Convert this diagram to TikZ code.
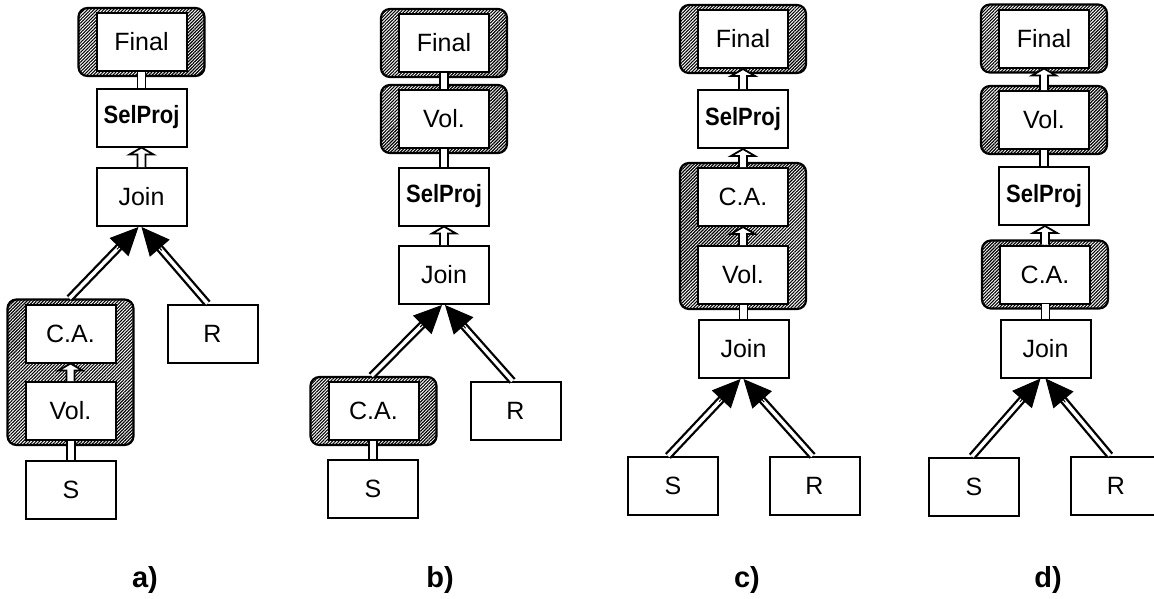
\documentclass[tikz,border=0pt]{standalone}
\usepackage{fontspec}
\setmainfont{Liberation Sans}
\usetikzlibrary{arrows.meta,patterns.meta,fit,backgrounds,calc}
\newcommand\myselproj[1]{\scalebox{0.88}[1]{\bfseries #1}}
\newcommand\mybigarrow[2]{\draw[bigshaft] (#1) -- (#2); \draw[bighead] ($(#2)!31pt!(#1)$) -- (#2);}
\begin{document}
\begin{tikzpicture}[x=1pt,y=-1pt,
  box/.style={draw, line width=2pt, fill=white, minimum width=90pt, minimum height=58pt,
    inner sep=0pt, font=\fontsize{25}{30}\selectfont},
  grp/.style={draw, line width=2.2pt, rounded corners=9pt, inner xsep=17pt, inner ysep=4pt,
    pattern={Lines[angle=45,distance=2.3pt,line width=1.15pt]}},
  lab/.style={font=\bfseries\fontsize{29}{32}\selectfont},
  harrow/.style={fill=white, line width=1.8pt, line join=miter,
    to path={let \p1=(\tikztostart), \p2=(\tikztotarget) in
      (\x1-4pt,\y1) -- (\x1-4pt,\y2-7pt) -- (\x1-12pt,\y2-7pt) -- (\x1,\y2)
      -- (\x1+12pt,\y2-7pt) -- (\x1+4pt,\y2-7pt) -- (\x1+4pt,\y1)}},
  hbar/.style={fill=white, line width=1.8pt,
    to path={let \p1=(\tikztostart), \p2=(\tikztotarget) in
      (\x1-4pt,\y1) -- (\x1-4pt,\y2+1pt) -- (\x1+4pt,\y2+1pt) -- (\x1+4pt,\y1)}},
  bigshaft/.style={double=white, double distance=3.5pt, line width=2.3pt, shorten >=23pt},
  bighead/.style={line width=1pt, -{Triangle[length=28pt,width=26pt]}}
]
\useasboundingbox (0,0) rectangle (1154,598);
\clip (0,0) rectangle (1154,598);

% ---------- panel a
\node[box] (aFinal) at (141.5,42) {Final};
\node[box] (aSel) at (141.5,117.5) {\myselproj{SelProj}};
\node[box] (aJoin) at (141.5,197) {Join};
\node[box] (aCA) at (70.5,333.5) {C.A.};
\node[box] (aVol) at (70.5,411) {Vol.};
\node[box] (aS) at (71,489.5) {S};
\node[box] (aR) at (212.5,333.5) {R};
\node[lab] (la) at (145,580) {a)};

% ---------- panel b
\node[box] (bFinal) at (444,43) {Final};
\node[box] (bVol) at (444,119) {Vol.};
\node[box] (bSel) at (444,196.5) {\myselproj{SelProj}};
\node[box] (bJoin) at (444,275) {Join};
\node[box] (bCA) at (373.5,411) {C.A.};
\node[box] (bS) at (373,488.5) {S};
\node[box] (bR) at (515.5,411) {R};
\node[lab] (lb) at (440,580) {b)};

% ---------- panel c
\node[box] (cFinal) at (743,39) {Final};
\node[box] (cSel) at (743,119) {\myselproj{SelProj}};
\node[box] (cCA) at (743,197) {C.A.};
\node[box] (cVol) at (743,275) {Vol.};
\node[box] (cJoin) at (743.5,349) {Join};
\node[box] (cS) at (673,486) {S};
\node[box] (cR) at (814.5,486) {R};
\node[lab] (lc) at (747,580) {c)};

% ---------- panel d
\node[box] (dFinal) at (1044,38.5) {Final};
\node[box] (dVol) at (1044,120) {Vol.};
\node[box] (dSel) at (1044,196) {\myselproj{SelProj}};
\node[box] (dCA) at (1045,274.5) {C.A.};
\node[box] (dJoin) at (1045.5,348.5) {Join};
\node[box] (dS) at (974,486.5) {S};
\node[box] (dR) at (1116,485.5) {R};
\node[lab] (ld) at (1048,580) {d)};

% ---------- shaded groups
\begin{pgfonlayer}{background}
\node[grp, fit=(aFinal)] (aGF) {};
\node[grp, fit=(aCA)(aVol)] (aG) {};
\node[grp, fit=(bFinal)] (bGF) {};
\node[grp, fit=(bVol)] (bGV) {};
\node[grp, fit=(bCA)] (bGC) {};
\node[grp, fit=(cFinal)] (cGF) {};
\node[grp, fit=(cCA)(cVol)] (cG) {};
\node[grp, fit=(dFinal)] (dGF) {};
\node[grp, fit=(dVol)] (dGV) {};
\node[grp, fit=(dCA)] (dGC) {};
\end{pgfonlayer}

% ---------- small connectors
\draw[hbar] (aSel.north) to (aFinal.south);
\draw[harrow] (aJoin.north) to (aSel.south);
\draw[harrow] (aVol.north) to (aCA.south);
\draw[hbar] (aS.north) to (aVol.south);

\draw[hbar] (bVol.north) to (bFinal.south);
\draw[hbar] (bSel.north) to (bVol.south);
\draw[harrow] (bJoin.north) to (bSel.south);
\draw[hbar] (bS.north) to (bCA.south);

\draw[harrow] (cSel.north) to (cFinal.south);
\draw[harrow] (cCA.north) to (cSel.south);
\draw[harrow] (cVol.north) to (cCA.south);
\draw[hbar] (cJoin.north) to (cVol.south);

\draw[harrow] (dVol.north) to (dFinal.south);
\draw[hbar] (dSel.north) to (dVol.south);
\draw[harrow] (dCA.north) to (dSel.south);
\draw[hbar] (dJoin.north) to (dCA.south);

% ---------- big arrows
\coordinate (aL) at ([xshift=-1pt]aG.north);
\coordinate (aRt) at ([xshift=-5pt]aR.north);
\coordinate (aT1) at ([xshift=-3pt]aJoin.south);
\coordinate (aT2) at ([xshift=0pt]aJoin.south);
\mybigarrow{aL}{aT1}
\mybigarrow{aRt}{aT2}

\coordinate (bL) at ([xshift=-2pt]bGC.north);
\coordinate (bRt) at ([xshift=-3pt]bR.north);
\coordinate (bT1) at ([xshift=-2pt]bJoin.south);
\coordinate (bT2) at ([xshift=1pt]bJoin.south);
\mybigarrow{bL}{bT1}
\mybigarrow{bRt}{bT2}

\coordinate (cL) at ([xshift=-5pt]cS.north);
\coordinate (cRt) at ([xshift=-2pt]cR.north);
\coordinate (cT1) at ([xshift=-3pt]cJoin.south);
\coordinate (cT2) at ([xshift=0pt]cJoin.south);
\mybigarrow{cL}{cT1}
\mybigarrow{cRt}{cT2}

\coordinate (dL) at ([xshift=-2pt]dS.north);
\coordinate (dRt) at ([xshift=-6pt]dR.north);
\coordinate (dT1) at ([xshift=-5pt]dJoin.south);
\coordinate (dT2) at ([xshift=0pt]dJoin.south);
\mybigarrow{dL}{dT1}
\mybigarrow{dRt}{dT2}
\end{tikzpicture}
\end{document}
